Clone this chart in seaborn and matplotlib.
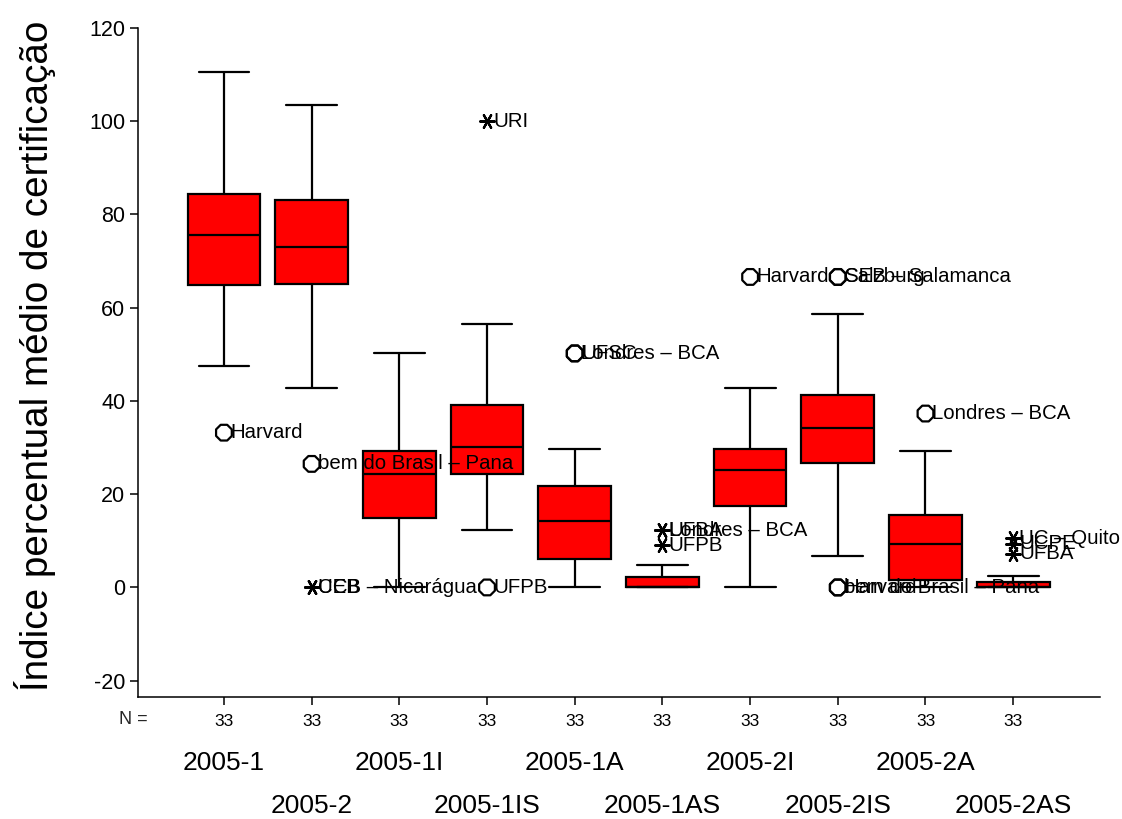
import numpy as np
import pandas as pd
import matplotlib
matplotlib.use("Agg")
import matplotlib.pyplot as plt
import matplotlib.transforms as mtransforms
import seaborn as sns

# ---- data ----
groups = ["2005-1", "2005-2", "2005-1I", "2005-1IS", "2005-1A",
          "2005-1AS", "2005-2I", "2005-2IS", "2005-2A", "2005-2AS"]
n_cases = [33, 33, 33, 33, 33, 33, 33, 33, 33, 33]
whisker_low = [47.5, 42.7, 0.0, 12.3, 0.0, 0.0, 0.0, 6.7, 0.0, 0.0]
q1 = [64.9, 65.0, 15.0, 24.3, 6.1, 0.0, 17.4, 26.6, 1.7, 0.0]
median = [75.5, 73.0, 24.3, 30.1, 14.2, 0.0, 25.1, 34.3, 9.4, 0.0]
q3 = [84.5, 83.0, 29.3, 39.1, 21.8, 2.3, 29.7, 41.2, 15.5, 1.2]
whisker_high = [110.5, 103.5, 50.2, 56.5, 29.7, 4.8, 42.7, 58.6, 29.3, 2.5]

outlier_group = ["2005-1", "2005-2", "2005-2", "2005-2", "2005-1IS", "2005-1IS",
                 "2005-1A", "2005-1A", "2005-1AS", "2005-1AS", "2005-1AS",
                 "2005-2I", "2005-2IS", "2005-2IS", "2005-2IS", "2005-2IS",
                 "2005-2A", "2005-2AS", "2005-2AS", "2005-2AS"]
outlier_value = [33.2, 26.5, 0.0, 0.0, 100.0, 0.0,
                 50.2, 50.2, 12.3, 12.3, 9.0,
                 66.6, 66.6, 66.6, 0.0, 0.0,
                 37.3, 10.5, 9.4, 7.2]
outlier_label = ["Harvard", "bem do Brasil \u2013 Pana", "UCB \u2013 Nicarágua", "CEB",
                 "URI", "UFPB",
                 "UFSC", "Londres \u2013 BCA", "UFBA", "Londres \u2013 BCA", "UFPB",
                 "Harvard", "CEB \u2013 Salamanca", "Salzburg", "Harvard",
                 "bem do Brasil \u2013 Pana",
                 "Londres \u2013 BCA", "UC \u2013 Quito", "UCPE", "UFBA"]
outlier_kind = ["o", "o", "x", "x", "x", "o",
                "o", "o", "x", "x", "x",
                "o", "o", "o", "o", "o",
                "o", "x", "x", "x"]

y_label = "Índice percentual médio de certificação"
y_ticks = [-20, 0, 20, 40, 60, 80, 100, 120]

# ---- style ----
sns.set_theme(style="ticks")
plt.rcParams["font.family"] = ["Liberation Sans", "DejaVu Sans"]
plt.rcParams["axes.linewidth"] = 1.1

W, H = 1122, 819
fig = plt.figure(figsize=(W / 100, H / 100), dpi=100)
ax = fig.add_axes([138 / W, 1 - 697 / H, (1100 - 138) / W, (697 - 28) / H])

# five-number summaries as long-form table (5 points -> exact quartiles)
rows = []
for g, a, b, c, d, e in zip(groups, whisker_low, q1, median, q3, whisker_high):
    for v in (a, b, c, d, e):
        rows.append({"grupo": g, "valor": v})
df = pd.DataFrame(rows)

BOX_W = 0.83
CAP_W = 0.58
box_kws = dict(data=df, x="grupo", y="valor", order=groups, whis=np.inf,
               width=BOX_W, color="#ff0000", saturation=1, linecolor="black",
               linewidth=1.6, showfliers=False, ax=ax)
try:
    sns.boxplot(capwidths=CAP_W, **box_kws)
except TypeError:
    ax.cla()
    sns.boxplot(**box_kws)
    for ln in ax.lines:
        xd = np.asarray(ln.get_xdata(), float)
        yd = np.asarray(ln.get_ydata(), float)
        if len(xd) == 2 and yd[0] == yd[1] and (xd[1] - xd[0]) < BOX_W * 0.9:
            c = xd.mean()
            ln.set_xdata([c - CAP_W / 2, c + CAP_W / 2])

# outliers
out = pd.DataFrame({"grupo": outlier_group, "valor": outlier_value,
                    "rotulo": outlier_label, "tipo": outlier_kind})
out["pos"] = [groups.index(g) for g in out["grupo"]]

circ = out[out["tipo"] == "o"]
ext = out[out["tipo"] == "x"]
sns.scatterplot(x=circ["pos"].to_numpy(), y=circ["valor"].to_numpy(), marker="8",
                s=150, color="black", facecolor="none", edgecolor="black",
                linewidth=1.6, ax=ax, zorder=5, legend=False)
sns.scatterplot(x=ext["pos"].to_numpy(), y=ext["valor"].to_numpy(), marker=(6, 2, 90),
                s=110, color="black", linewidth=1.6, ax=ax, zorder=5, legend=False)

for _, r in out.iterrows():
    ax.annotate(r["rotulo"], (r["pos"], r["valor"]), xytext=(4.5, 0),
                textcoords="offset points", ha="left", va="center",
                fontsize=14.7, color="black", zorder=6)

# axes
ax.set_xlim(-0.98, 9.99)
ax.set_ylim(-23.5, 120)
ax.set_yticks(y_ticks)
ax.set_yticklabels([str(t) for t in y_ticks])
ax.set_xticks(range(len(groups)))
ax.set_xticklabels([str(n) for n in n_cases])
ax.tick_params(axis="y", direction="out", length=6, width=1.1, pad=3,
               labelsize=15.5, colors="black")
ax.tick_params(axis="x", direction="out", length=6, width=1.1, pad=6,
               labelsize=12.5, colors="black")
ax.set_xlabel("")
ax.set_ylabel(y_label, fontsize=27.8, color="black")
ax.yaxis.set_label_coords(-0.085, 0.51)
sns.despine(ax=ax)
for s in ("left", "bottom"):
    ax.spines[s].set_color("black")

fig.text(133 / W, 1 - 720 / H, "N =", ha="center", va="center", fontsize=13)

trans = mtransforms.blended_transform_factory(ax.transData, ax.transAxes)
for i, g in enumerate(groups):
    yy = -0.0987 if i % 2 == 0 else -0.163
    ax.text(i, yy, g, transform=trans, ha="center", va="center", fontsize=19,
            color="black")

fig.savefig("out.png", dpi=100)
